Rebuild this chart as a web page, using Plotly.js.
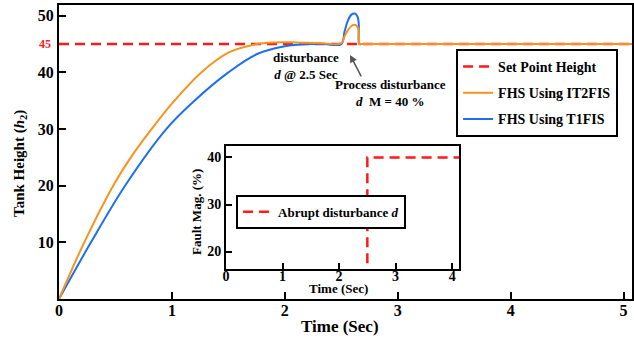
<!DOCTYPE html>
<html>
<head>
<meta charset="utf-8">
<script src="https://cdn.plot.ly/plotly-3.0.1.min.js"></script>
<style>html,body{margin:0;padding:0;background:#fff;}</style>
</head>
<body>
<div id="chart" style="width:634px;height:338px;"></div>
<script>
// ---- data ----
var setPointTime = [0, 5.1];
var setPointHeight = [45, 45];

var it2Time = [0, 0.224, 0.48, 0.65, 0.82, 1.0, 1.26, 1.5, 1.75, 1.9, 2.1, 2.3, 2.5, 2.53, 2.56, 2.59, 2.62, 2.645, 2.655, 2.66, 2.68, 2.8, 3.2, 5.1];
var it2Height = [0, 10, 20, 25.4, 30, 34.5, 40, 43.5, 45.0, 45.3, 45.3, 45.2, 45.15, 46.4, 47.5, 48.2, 48.4, 48.0, 47.2, 45, 45, 45, 45, 45];

var t1Time = [0, 0.283, 0.585, 0.95, 1.2, 1.5, 1.75, 2.0, 2.2, 2.35, 2.5, 2.53, 2.56, 2.59, 2.62, 2.645, 2.655, 2.66, 2.68, 2.8, 3.2, 5.1];
var t1Height = [0, 10, 20, 30, 35, 40, 43.2, 44.6, 45, 45, 45, 47.3, 49.2, 50.2, 50.4, 49.8, 48.5, 45, 45, 45, 45, 45];

var faultTime = [0, 2.5, 2.5, 4.2];
var faultMag = [0, 0, 40, 40];

var mainXTicks = [0, 1, 2, 3, 4, 5];
var mainYTicks = [10, 20, 30, 40, 50];
var insetXTicks = [0, 1, 2, 3, 4];
var insetYTicks = [20, 30, 40];

// ---- styles ----
var FONT = 'Liberation Serif, Times New Roman, serif';
var RED = '#FF1A1A', ORANGE = '#F7931E', BLUE = '#1C6FF0';

var traces = [
  {x: setPointTime, y: setPointHeight, mode: 'lines', name: 'Set Point Height',
   line: {color: RED, width: 2.5, dash: '10px,6px'}, legendgroup: 'a', legendrank: 1, legend: 'legend'},
  {x: t1Time, y: t1Height, mode: 'lines', name: 'FHS Using T1FIS',
   line: {color: BLUE, width: 2, shape: 'spline', smoothing: 1}, legendgroup: 'c', legendrank: 3, legend: 'legend'},
  {x: it2Time, y: it2Height, mode: 'lines', name: 'FHS Using IT2FIS',
   line: {color: ORANGE, width: 2, shape: 'spline', smoothing: 1}, legendgroup: 'b', legendrank: 2, legend: 'legend'},
  {x: faultTime, y: faultMag, mode: 'lines', name: 'Abrupt disturbance <i>d</i>',
   xaxis: 'x2', yaxis: 'y2', line: {color: RED, width: 2.5, dash: '10px,6px'}, legend: 'legend2'}
];

var axisCommon = {
  showline: true, linecolor: '#000', linewidth: 2, mirror: true,
  ticks: 'inside', tickcolor: '#000', tickwidth: 2,
  showgrid: false, zeroline: false
};

function ann(text, x, y, size, extra) {
  return Object.assign({text: text, xref: 'paper', yref: 'paper', x: x, y: y,
    xanchor: 'center', yanchor: 'middle', showarrow: false,
    font: {family: FONT, size: size, weight: 'bold', color: '#000'}}, extra || {});
}
function px2x(p) { return (p - 59) / 573; }
function px2y(p) { return (299 - p) / 294; }

var layout = {
  width: 634, height: 338,
  margin: {l: 59, r: 2, t: 5, b: 39},
  paper_bgcolor: '#fff', plot_bgcolor: '#fff',
  font: {family: FONT, color: '#000'},
  xaxis: Object.assign({}, axisCommon, {
    range: [0, 5.075], tickvals: mainXTicks, ticklen: 7, ticklabelstandoff: -4,
    tickfont: {family: FONT, size: 16, weight: 'bold'}
  }),
  yaxis: Object.assign({}, axisCommon, {
    range: [0, 51.9], tickvals: mainYTicks, ticklen: 7,
    tickfont: {family: FONT, size: 16, weight: 'bold'}
  }),
  xaxis2: Object.assign({}, axisCommon, {
    domain: [0.2914, 0.698], anchor: 'y2',
    range: [0, 4.12], tickvals: insetXTicks, ticklen: 6, ticklabelstandoff: -7,
    tickfont: {family: FONT, size: 14, weight: 'bold'}
  }),
  yaxis2: Object.assign({}, axisCommon, {
    domain: [0.102, 0.520], anchor: 'x2',
    range: [16.3, 42.4], tickvals: insetYTicks, ticklen: 6,
    tickfont: {family: FONT, size: 14, weight: 'bold'}
  }),
  showlegend: true,
  legend: {
    x: 0.693, y: px2y(49), xanchor: 'left', yanchor: 'top',
    bgcolor: '#fff', bordercolor: '#000', borderwidth: 2,
    font: {family: FONT, size: 14, weight: 'bold', color: '#000'},
    tracegroupgap: 5, traceorder: 'grouped'
  },
  legend2: {
    x: 0.309, y: 0.354, xanchor: 'left', yanchor: 'top',
    bgcolor: '#fff', bordercolor: '#000', borderwidth: 2,
    font: {family: FONT, size: 13, weight: 'bold', color: '#000'}
  },
  annotations: [
    ann('Tank Height (<i>h</i><sub>2</sub>)', px2x(20), px2y(164), 15, {textangle: -90}),
    ann('Time (Sec)', px2x(340), px2y(326), 17),
    ann('45', -0.01, 45, 12, {yref: 'y', xanchor: 'right', font: {family: FONT, size: 12, weight: 'bold', color: RED}}),
    ann('disturbance<br><i>d</i> @ 2.5 Sec', px2x(306), px2y(66), 13),
    ann('Process disturbance<br><i>d</i>  M = 40 %', px2x(390), px2y(93), 13),
    {text: '', xref: 'x', yref: 'y', x: (350 - 59) / 112.9, y: (299.3 - 55) / 5.67,
     showarrow: true, ax: 12, ay: 23, arrowhead: 2, arrowsize: 1, arrowwidth: 1.5, arrowcolor: '#555'},
    ann('Fault Mag. (%)', px2x(196), px2y(212), 13, {textangle: -90}),
    ann('Time (Sec)', px2x(338), px2y(288), 13)
  ]
};

Plotly.newPlot('chart', traces, layout, {displayModeBar: false, staticPlot: true});
</script>
</body>
</html>
